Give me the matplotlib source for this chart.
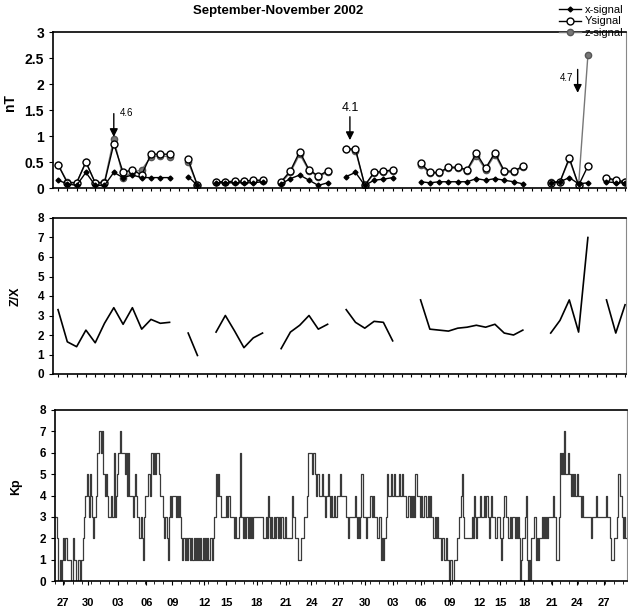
import numpy as np
import matplotlib
matplotlib.use("Agg")
import matplotlib.pyplot as plt
from matplotlib.lines import Line2D

plt.rcParams['font.family'] = ['Liberation Sans', 'DejaVu Sans']

nan = np.nan
# ---------------- data ----------------
# daily index (0 = Sep 26) for top & middle panels
day_idx = list(range(62))

x_signal = [0.15, 0.08, 0.05, 0.3, 0.05, 0.05, 0.3, 0.2, 0.25, 0.2, 0.2, 0.2, 0.2,
            nan, 0.22, 0.05, nan,
            0.1, 0.1, 0.1, 0.1, 0.1, 0.12, nan,
            0.08, 0.18, 0.25, 0.15, 0.05, 0.1, nan,
            0.22, 0.3, 0.05, 0.15, 0.17, 0.2, nan, nan,
            0.12, 0.1, 0.12, 0.12, 0.12, 0.12, 0.18, 0.15, 0.18, 0.15, 0.12, 0.08, nan, nan,
            0.1, 0.12, 0.2, 0.08, 0.1, nan,
            0.12, 0.1, 0.1]

y_signal = [0.45, 0.1, 0.1, 0.5, 0.1, 0.1, 0.85, 0.3, 0.35, 0.25, 0.65, 0.65, 0.65,
            nan, 0.55, 0.05, nan,
            0.12, 0.12, 0.13, 0.13, 0.15, 0.15, nan,
            0.12, 0.33, 0.7, 0.35, 0.23, 0.33, nan,
            0.75, 0.75, 0.05, 0.3, 0.32, 0.35, nan, nan,
            0.48, 0.3, 0.3, 0.4, 0.4, 0.35, 0.67, 0.38, 0.68, 0.33, 0.32, 0.42, nan, nan,
            0.1, 0.12, 0.58, 0.05, 0.42, nan,
            0.2, 0.15, 0.12]

z_signal = [0.45, 0.12, 0.1, 0.5, 0.1, 0.12, 0.95, 0.2, 0.3, 0.35, 0.6, 0.62, 0.6,
            nan, 0.5, 0.05, nan,
            0.12, 0.12, 0.12, 0.13, 0.14, 0.14, nan,
            0.1, 0.3, 0.65, 0.33, 0.22, 0.3, nan,
            0.75, 0.72, 0.05, 0.28, 0.3, 0.33, nan, nan,
            0.45, 0.28, 0.28, 0.38, 0.38, 0.33, 0.62, 0.35, 0.64, 0.3, 0.3, 0.4, nan, nan,
            0.12, 0.12, 0.55, 0.05, 2.55, nan,
            0.18, 0.14, 0.12]

z_over_x = [3.3, 1.65, 1.4, 2.25, 1.6, 2.6, 3.4, 2.55, 3.4, 2.3, 2.8, 2.6, 2.65,
            nan, 2.1, 0.95, nan,
            2.15, 3.0, 2.2, 1.35, 1.85, 2.1, nan,
            1.3, 2.15, 2.5, 3.0, 2.3, 2.55, nan,
            3.3, 2.65, 2.35, 2.7, 2.65, 1.7, nan, nan,
            3.8, 2.3, 2.25, 2.2, 2.35, 2.4, 2.5, 2.4, 2.55, 2.1, 2.0, 2.25, nan, nan,
            2.1, 2.75, 3.8, 2.15, 7.0, nan,
            3.8, 2.1, 3.55]

# annotations: (day index, label)
peaks = [(6, "4.6"), (31.4, "4.1"), (55.9, "4.7")]

# 3-hourly Kp index, Sep 26 - Nov 28 2002
kp_part1 = [3,3,2, 0,1,0,1, 2,1,2,2, 1,1,1, 0,0,2, 1,1,0,1,1,0,1, 1,2,3,
            4,5,4,3,5,4,3,2,3, 4,6,6,7, 7,6,7, 5,4,5, 4,3,3,3,4,3,6, 3,4,
            5,6,6,7,6,6, 6,5,6,4, 6,4,4,4, 3,4,5,4,3,3, 2,3,2,1,3,
            4,4,4,5,4,6, 6,5,6,5,6,6,5, 4,4,4, 3,2,3,2,1, 3,4,3,4,4,
            4,3,4,3,4,3, 2,1,2,1, 2,1,2,2,1,2, 1,2,1,2,1, 2,1,2,1,
            2,1,2,1,2, 1,1,2,1, 2,3,3, 5,4,5, 4,3,3, 3,3,3,4,3,4,3]
kp_part2 = [3,3,3,2,3, 2,2,3, 6,3, 3,2,3,2, 3,2,3,2,3,2,3,
            3,3,3,3,3,3,3,3,2, 2,3,2, 4,3, 2,3,2,3,2,3,3, 2,3,2,3,2,2,3,
            2,2,2,2,2, 4,3,3, 2,2,2, 1,1,2, 2,2,3, 3,3,4, 6,6,6,5,6,6,5, 4,5,4,4]
kp_part3 = [4,5,4,4,3,4,5, 4,3,4,3, 3,4,3,4, 4,4,5,4,4, 4,4,3, 3,2,3,3,3,3,
            3,4,3,2,3,2,3, 5,3,3, 3,2,3,3, 3,4,3,4,3,3, 3,2,2,3, 1,2,1,2,2,
            3,5,4, 4,5,4,4,5,4, 4,4,5,4,4,5, 4,4,4,3,4,4, 3,4,3,4,3, 5,4,4,
            4,3,4,3, 3,4,3,3,4,3, 4,3,3,2,3,2,3,2,2, 2,1,2,1,1,2,1,
            1,0,1,0,0,1,1, 1,2,2, 3,4,5,3,2, 2,2,2,2,2,2,3]
kp_part4 = [2,4,3,2,3, 3,4,3,3, 3,4,3,4,3,2,3,4,3, 3,3,2,3,3,3, 2,1,2,
            3,4,3,3,2, 2,3,2,3, 3,2,3,2,3,2, 0,1,2, 2,3,4, 1,0,1,0,
            2,2,3,3, 1,2,1,2,2, 3,2,3,2,3,2, 3,3,3,3,4,3,3, 1,1,3,
            6,5,6, 5,7,5, 5,6,5,5,4, 5,4,5,4, 5,4,4, 4,3,4,
            3,3,3,3,3,3, 3,2,3, 3,3,4,3,3,3, 3,3,3,3, 3,4,3,3,3,2,
            1,1,2, 2,2,3, 5,5,4, 3,2,3,2]

date_labels = ["27", "30", "03", "06", "09", "12", "15", "18", "21", "24", "27",
               "30", "03", "06", "09", "12", "15", "18", "21", "24", "27"]
label_days = [0.88, 3.64, 6.95, 10.15, 13.02, 16.55, 18.97, 22.39, 25.59, 28.46, 31.44,
              34.42, 37.51, 40.6, 43.79, 47.1, 49.42, 52.07, 55.16, 57.92, 60.9]

# ---------------- figure ----------------
W, H = 628, 611
fig = plt.figure(figsize=(W / 100, H / 100), dpi=100)

def ax_px(l, t, r, b):
    return fig.add_axes([l / W, 1 - b / H, (r - l) / W, (b - t) / H])

ax1 = ax_px(53, 32, 626, 188)
ax2 = ax_px(53, 218, 626, 374)
ax3 = ax_px(55, 410, 627, 581)

for ax in (ax1, ax2, ax3):
    for s in ('left', 'bottom', 'top'):
        ax.spines[s].set_color('black')
        ax.spines[s].set_linewidth(1.2)
    ax.spines['right'].set_color('#888888')
    ax.spines['right'].set_linewidth(0.8)
    ax.tick_params(axis='both', direction='out', length=3, width=0.8, colors='black')

# top panel
xs = np.array(day_idx, dtype=float)
ax1.plot(xs, z_signal, color='#777777', lw=1.0, marker='o', ms=4.5,
         mfc='#777777', mec='#555555', label='z-signal')
ax1.plot(xs, y_signal, color='black', lw=1.0, marker='o', ms=5,
         mfc='white', mec='black', mew=1.0, label='Ysignal')
ax1.plot(xs, x_signal, color='black', lw=1.0, marker='D', ms=2.5,
         mfc='black', mec='black', label='x-signal')
ax1.set_xlim(-0.54, 61.1)
ax1.set_ylim(0, 3)
ax1.set_yticks([0, 0.5, 1, 1.5, 2, 2.5, 3])
ax1.set_yticklabels(["0", "0.5", "1", "1.5", "2", "2.5", "3"], fontsize=10, fontweight='bold')
ax1.set_xticks(day_idx)
ax1.set_xticklabels([])
ax1.tick_params(axis='x', length=2.5)
ax1.set_ylabel("nT", fontsize=10, fontweight='bold')
ax1.yaxis.set_label_coords(-0.062, 0.55)

# annotations
tips = {"4.6": 0.98, "4.1": 0.92, "4.7": 1.83}
for xk, lab in peaks:
    tip = tips[lab]
    ax1.annotate("", xy=(xk, tip), xytext=(xk, tip + 0.45),
                 arrowprops=dict(arrowstyle='-|>', color='black', lw=1.0,
                                 mutation_scale=12, shrinkA=0, shrinkB=0))
ax1.text(6.6, 1.34, "4.6", fontsize=7, ha='left', va='bottom')
ax1.text(31.4, 1.42, "4.1", fontsize=9, ha='center', va='bottom')
ax1.text(55.4, 2.12, "4.7", fontsize=7, ha='right', va='center')

handles = [Line2D([], [], color='black', lw=1.0, marker='D', ms=2.5, mfc='black'),
           Line2D([], [], color='black', lw=1.0, marker='o', ms=5, mfc='white', mec='black'),
           Line2D([], [], color='#777777', lw=1.0, marker='o', ms=4.5, mfc='#777777', mec='#555555')]
fig.legend(handles, ["x-signal", "Ysignal", "z-signal"], loc='upper right',
           bbox_to_anchor=(1.005, 1.005), frameon=False, fontsize=8,
           handlelength=2.0, handletextpad=0.3, labelspacing=0.15, borderpad=0.2)

fig.text(278 / W, 1 - 11 / H, "September-November 2002", ha='center', va='center',
         fontsize=9.5, fontweight='bold')

# middle panel
ax2.plot(xs, z_over_x, color='black', lw=1.2)
ax2.set_xlim(-0.54, 61.1)
ax2.set_ylim(0, 8)
ax2.set_yticks(range(0, 9))
ax2.set_yticklabels([str(v) for v in range(0, 9)], fontsize=8.5, fontweight='bold')
ax2.set_xticks(day_idx)
ax2.set_xticklabels([])
ax2.tick_params(axis='x', length=2.5)
ax2.set_ylabel("Z/X", fontsize=9, fontweight='bold')
ax2.yaxis.set_label_coords(-0.055, 0.5)

# bottom panel
kp = kp_part1 + kp_part2 + kp_part3 + kp_part4
t = np.arange(len(kp) + 1) / 8.0
kp_vals = np.array(kp + [kp[-1]], dtype=float)
ax3.plot(t, kp_vals, drawstyle='steps-post', color='#3a3a3a', lw=0.9)
ax3.set_xlim(0, len(kp) / 8.0 + 0.1)
ax3.set_ylim(0, 8)
ax3.set_yticks(range(0, 9))
ax3.set_yticklabels([str(v) for v in range(0, 9)], fontsize=8.5, fontweight='bold')
ax3.set_xticks(label_days)
ax3.set_xticklabels(date_labels, fontsize=8, fontweight='bold')
ax3.set_xticks(np.arange(0, 64, 1.0), minor=True)
ax3.tick_params(axis='x', which='major', length=3, pad=9)
ax3.tick_params(axis='x', which='minor', length=2)
ax3.set_ylabel("Kp", fontsize=9, fontweight='bold')
ax3.yaxis.set_label_coords(-0.058, 0.55)

fig.savefig("out.png", dpi=100)
